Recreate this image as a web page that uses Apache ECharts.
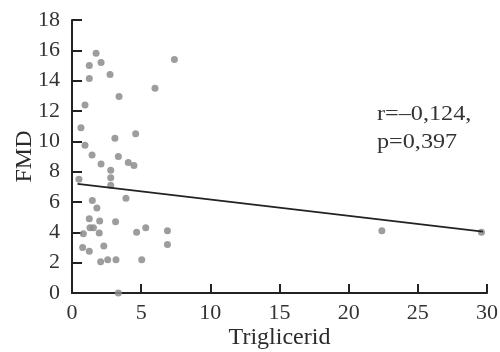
<!DOCTYPE html>
<html>
<head>
<meta charset="utf-8">
<script src="https://cdn.jsdelivr.net/npm/echarts@6/dist/echarts.min.js"></script>
<style>html,body{margin:0;padding:0;background:#fff}#c{width:500px;height:352px}</style>
</head>
<body>
<div id="c"></div>
<script>
const xVals = [1.74,2.1,1.25,1.25,2.75,7.4,6.0,3.4,0.94,0.65,3.1,4.6,0.94,1.45,3.35,2.1,4.07,4.48,2.8,2.8,2.8,0.5,1.47,3.9,1.8,1.25,2.0,3.15,1.3,1.55,0.82,1.97,4.67,5.33,6.9,6.9,2.3,0.77,1.25,2.07,2.58,3.18,5.04,3.35,22.4,29.6];
const yVals = [15.8,15.2,15.0,14.15,14.4,15.4,13.5,12.95,12.4,10.9,10.2,10.5,9.75,9.1,9.0,8.5,8.6,8.4,8.1,7.6,7.1,7.5,6.1,6.25,5.6,4.9,4.75,4.7,4.3,4.3,3.9,3.95,4.0,4.3,4.1,3.2,3.1,3.0,2.75,2.06,2.2,2.2,2.2,0.0,4.1,4.0];
const fitX = [0.4, 29.7];
const fitY = [7.2, 4.05];
const xTicks = [0,5,10,15,20,25,30];
const yTicks = [0,2,4,6,8,10,12,14,16,18];
const annotation = ['r=\u20130,124,', 'p=0,397'];

const font = '"Liberation Serif"';
const chart = echarts.init(document.getElementById('c'), null, {renderer:'canvas'});
chart.setOption({
  animation:false,
  grid:{left:72,right:13,top:20,bottom:59,containLabel:false,outerBoundsMode:'none'},
  xAxis:{type:'value',min:xTicks[0],max:xTicks[xTicks.length-1],interval:5,
    name:'Triglicerid',nameLocation:'middle',nameGap:33,nameMoveOverlap:false,
    nameTextStyle:{fontFamily:font,fontSize:24,color:'#2a2a2a'},
    axisLine:{lineStyle:{color:'#222',width:2}},
    axisTick:{inside:true,length:9,lineStyle:{color:'#222',width:2}},
    axisLabel:{fontFamily:font,fontSize:22,color:'#333',margin:9},
    splitLine:{show:false}},
  yAxis:{type:'value',min:yTicks[0],max:yTicks[yTicks.length-1],interval:2,
    name:'FMD',nameLocation:'middle',nameGap:35,nameRotate:90,nameMoveOverlap:false,
    nameTextStyle:{fontFamily:font,fontSize:24,color:'#2a2a2a'},
    axisLine:{show:true,lineStyle:{color:'#222',width:2}},
    axisTick:{show:true,inside:true,length:10,lineStyle:{color:'#222',width:2}},
    axisLabel:{fontFamily:font,fontSize:22,color:'#333',margin:12},
    splitLine:{show:false}},
  graphic:[{type:'text',x:377,y:100,scaleX:1.1,style:{text:annotation.join('\n'),font:'22px "Liberation Serif"',fill:'#333',lineHeight:28}}],
  series:[
    {type:'scatter',data:xVals.map((x,i)=>[x,yVals[i]]),symbolSize:7,
     itemStyle:{color:'#8c8c8c',opacity:0.85}},
    {type:'line',data:fitX.map((x,i)=>[x,fitY[i]]),symbol:'none',
     lineStyle:{color:'#222',width:1.7}}
  ]
});
</script>
</body>
</html>
